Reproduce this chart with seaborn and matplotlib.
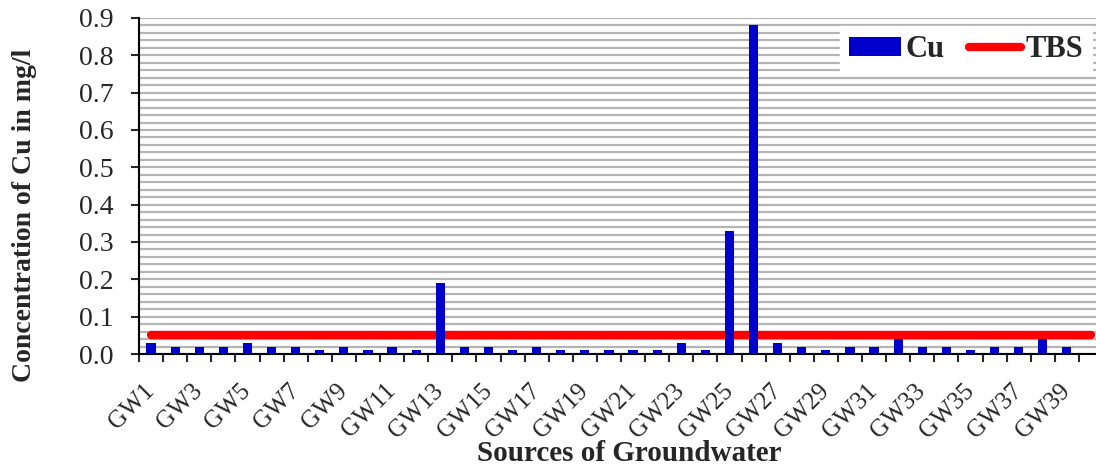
import matplotlib
matplotlib.use("Agg")
import matplotlib.pyplot as plt
import seaborn as sns
import numpy as np
from matplotlib.ticker import MultipleLocator, FormatStrFormatter

# Cu concentration (mg/l) in the groundwater sources GW1..GW40
sources = ["GW%d" % i for i in range(1, 41)]
cu = [0.03, 0.02, 0.02, 0.02, 0.03, 0.02, 0.02, 0.01, 0.02, 0.01,
      0.02, 0.01, 0.19, 0.02, 0.02, 0.01, 0.02, 0.01, 0.01, 0.01,
      0.01, 0.01, 0.03, 0.01, 0.33, 0.88, 0.03, 0.02, 0.01, 0.02,
      0.02, 0.04, 0.02, 0.02, 0.01, 0.02, 0.02, 0.04, 0.02, 0.0]
tbs = [0.05] * len(sources)
tick_labels = sources[::2]

sns.set_style("white")
plt.rcParams['font.family'] = ['Liberation Serif', 'DejaVu Serif']

fig = plt.figure(figsize=(10.96, 4.70), dpi=100)
ax = fig.add_axes([139/1096, 1-354/470, 964/1096, 336/470])

pos = np.arange(len(sources))
sns.barplot(x=pos, y=cu, color="#0000CC", width=0.38, saturation=1,
            native_scale=True, label="Cu", ax=ax, zorder=3, linewidth=0)
sns.lineplot(x=pos, y=tbs, color="red", linewidth=6, label="TBS", ax=ax,
             zorder=2, solid_capstyle="round")

ax.set_xlim(-0.5, len(sources) - 0.5)
ax.set_ylim(0, 0.9)

# y axis
ax.yaxis.set_major_locator(MultipleLocator(0.1))
ax.yaxis.set_minor_locator(MultipleLocator(0.02))
ax.yaxis.set_major_formatter(FormatStrFormatter('%.1f'))
ax.grid(which='both', axis='y', color='#b4b4b4', linewidth=1.6)
ax.set_axisbelow(True)
ax.tick_params(axis='y', which='major', direction='out', length=6, width=1.5,
               labelsize=20, left=True, pad=12)
ax.tick_params(axis='y', which='minor', length=0)

# x axis: ticks at category boundaries, labels on every other source
ax.set_xticks(pos[::2])
ax.set_xticklabels(tick_labels, rotation=45, ha='right', va='center',
                   rotation_mode='anchor')
ax.set_xticks(np.arange(-0.5, len(sources), 1), minor=True)
ax.tick_params(axis='x', which='major', length=0, labelsize=18, pad=24)
ax.tick_params(axis='x', which='minor', direction='out', length=6, width=1.5,
               bottom=True)

for s in ['top', 'right']:
    ax.spines[s].set_visible(False)
for s in ['left', 'bottom']:
    ax.spines[s].set_color('black')
    ax.spines[s].set_linewidth(1.5)

ax.set_xlabel('Sources of Groundwater', fontsize=21, fontweight='bold')
ax.xaxis.set_label_coords(0.509, -0.255)
ax.set_ylabel('Concentration of Cu in mg/l', fontsize=20, fontweight='bold')
ax.yaxis.set_label_coords(-0.106, 0.414)

h, l = ax.get_legend_handles_labels()
order = [l.index('Cu'), l.index('TBS')]
leg = ax.legend([h[i] for i in order], [l[i] for i in order],
                loc='upper right', bbox_to_anchor=(1092/1096, 1-26/470),
                bbox_transform=fig.transFigure, borderaxespad=0, ncol=2,
                frameon=True, fancybox=False, framealpha=1,
                prop={'weight': 'bold', 'size': 22}, handlelength=1.7,
                handleheight=0.6, columnspacing=0.8, handletextpad=0.15,
                borderpad=0.3)
leg.get_frame().set_edgecolor('white')

fig.savefig("out.png", dpi=100)
